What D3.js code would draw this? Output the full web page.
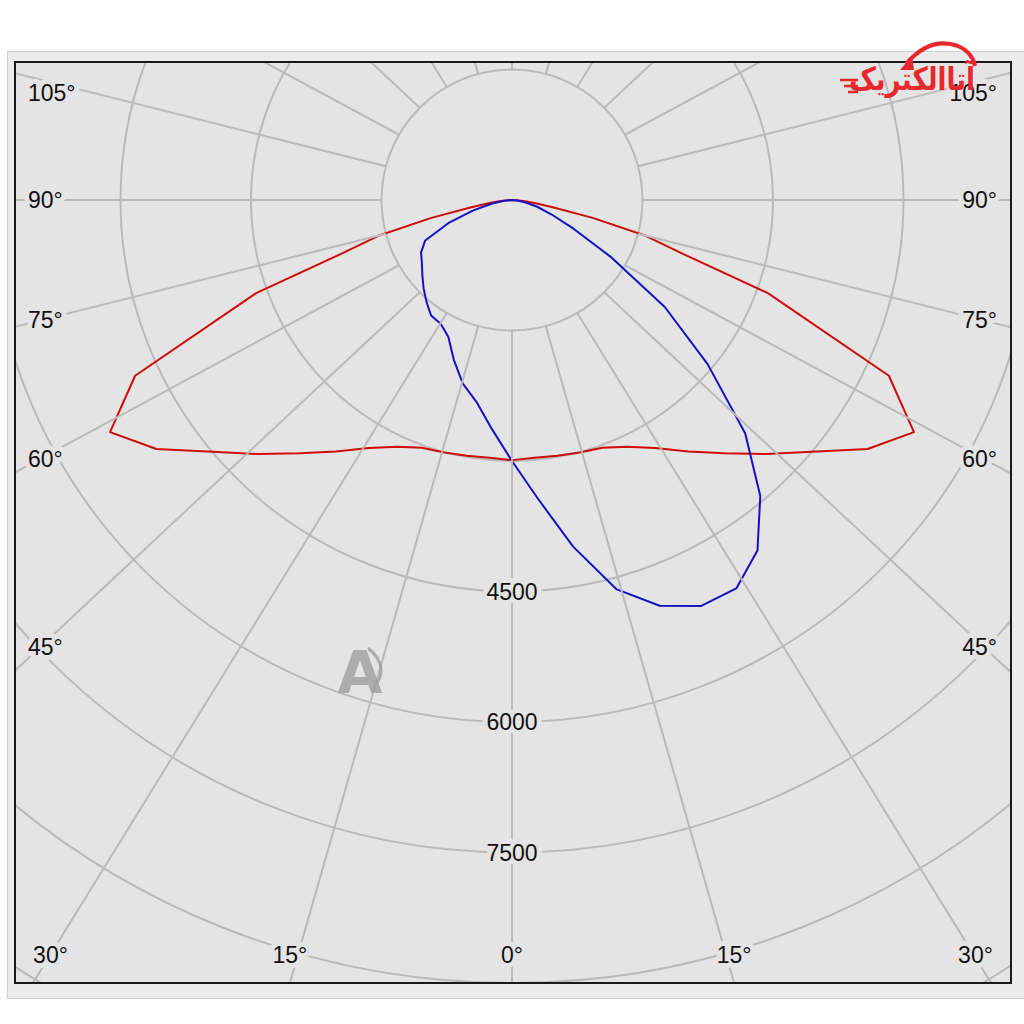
<!DOCTYPE html>
<html><head><meta charset="utf-8">
<script src="https://cdn.jsdelivr.net/npm/d3@7"></script>
<style>html,body{margin:0;padding:0;background:#fff;}</style>
</head><body>
<svg id="chart" width="1024" height="1024"></svg>
<script>
// ---------------- data ----------------
// C0-C180 plane (red): gamma angles (deg, negative = left half) and intensities (cd)
const redAngles = [-90,-87.5,-85,-82.5,-80,-77.5,-75,-72.5,-70,-65,-60,-55,-50,-45,-40,-35,-30,-25,-20,-15,-10,-5,0,
                   5,10,15,20,25,30,35,40,45,50,55,60,65,70,72.5,75,77.5,80,82.5,85,87.5,90];
const intensityC0C180 = [0,50,130,260,475,950,1590,2060,3130,4780,5335,4990,4500,4130,3800,3530,3290,3130,3030,3005,2985,2975,2990,
                         2975,2985,3005,3030,3130,3290,3530,3800,4130,4500,4990,5335,4780,3130,2060,1590,950,475,260,130,50,0];
// C90-C270 plane (blue)
const blueAngles = [-90,-85,-80,-75,-70,-65,-60,-55,-50,-45,-40,-35,-30,-25,-20,-15,-10,-5,0,
                    5,10,15,20,25,30,35,40,45,50,55,60,65,70,75,80,85,90];
const intensityC90C270 = [0,90,230,460,780,1100,1207,1264,1345,1437,1529,1621,1641,1733,1955,2184,2356,2644,3000,
                          3450,4046,4630,4963,5148,5156,4919,4440,3790,2935,2144,1320,780,480,300,150,60,0];
const ringValues = [1500,3000,4500,6000,7500,9000,10500];
const ringLabelValues = [4500,6000,7500];
const gridAngles = d3.range(0,360,15);
const angleLabels = [0,15,30,45,60,75,90,105];

// ---------------- layout ----------------
const svg = d3.select("#chart");
const W = 1024, H = 1024;
const frame = {x0:15, y0:62, x1:1011, y1:983};
const cx = 512, cy = 200;
const bg = "#e4e4e4";
const gridColor = "#bababa";
const stretch = 1.07;
const rScale = d3.scaleLinear().domain([0,1500]).range([0,130.5]);

// outer panel
svg.append("rect").attr("x",0).attr("y",0).attr("width",W).attr("height",H).attr("fill","#fff");
svg.append("rect").attr("x",7.5).attr("y",51.5).attr("width",1030).attr("height",947)
  .attr("fill","#ececec").attr("stroke","#cfcfcf").attr("stroke-width",1);

const defs = svg.append("defs");
defs.append("clipPath").attr("id","plotclip").append("rect")
  .attr("x",frame.x0).attr("y",frame.y0).attr("width",frame.x1-frame.x0).attr("height",frame.y1-frame.y0);

svg.append("rect").attr("x",frame.x0).attr("y",frame.y0)
  .attr("width",frame.x1-frame.x0).attr("height",frame.y1-frame.y0).attr("fill",bg);

const plot = svg.append("g").attr("clip-path","url(#plotclip)");
const g = plot.append("g").attr("transform",`translate(${cx},${cy})`);

// rings
g.selectAll("circle.ring").data(ringValues).join("circle")
  .attr("class","ring").attr("r",d=>rScale(d))
  .attr("fill","none").attr("stroke",gridColor).attr("stroke-width",2);

// radial lines (start on the first ring)
function ray(deg){
  const t = deg*Math.PI/180;
  const r0 = rScale(ringValues[0]);
  const sx = r0*Math.sin(t), sy = r0*Math.cos(t);
  let dx = stretch*Math.sin(t), dy = Math.cos(t);
  const n = Math.hypot(dx,dy); dx/=n; dy/=n;
  return {sx:cx+sx, sy:cy+sy, dx, dy};
}
plot.selectAll("line.spoke").data(gridAngles).join("line")
  .attr("class","spoke")
  .attr("x1",d=>ray(d).sx).attr("y1",d=>ray(d).sy)
  .attr("x2",d=>ray(d).sx+1600*ray(d).dx).attr("y2",d=>ray(d).sy+1600*ray(d).dy)
  .attr("stroke",gridColor).attr("stroke-width",2);

// curves
const radial = d3.lineRadial()
  .angle(d=>Math.PI - d.g*Math.PI/180)
  .radius(d=>rScale(d.v));
const redData = redAngles.map((a,i)=>({g:a,v:intensityC0C180[i]}));
const blueData = blueAngles.map((a,i)=>({g:a,v:intensityC90C270[i]}));

// labels
const fontFam = "'Liberation Sans', Arial, sans-serif";
function label(sel, x, y, txt, anchor){
  sel.append("text").attr("x",x).attr("y",y).text(txt)
    .attr("text-anchor",anchor).attr("dominant-baseline","central")
    .attr("font-family",fontFam).attr("font-size",23).attr("fill","#111")
    .attr("stroke",bg).attr("stroke-width",10).attr("stroke-linejoin","round")
    .attr("paint-order","stroke");
}
const lab = plot.append("g");
ringLabelValues.forEach(v=>label(lab, cx, cy+rScale(v), String(v), "middle"));

const labelW = 35;
angleLabels.forEach(a=>{
  const sides = a===0 ? [1] : [-1,1];
  sides.forEach(s=>{
    const r = ray(s*a);
    const xSide = s<0 ? frame.x0 : frame.x1;
    const ySide = Math.abs(r.dx)>1e-6 ? r.sy + (xSide - r.sx)*r.dy/r.dx : Infinity;
    const txt = a+"°";
    if (ySide < frame.y1 && a!==0){
      const xt = s<0 ? 40 : 984;
      let y = r.sy + (xt - r.sx)*r.dy/r.dx;
      y = Math.max(y, frame.y0+31);
      label(lab, s<0 ? frame.x0+13 : frame.x1-14, y, txt, s<0 ? "start":"end");
    } else {
      let x = r.sx + (frame.y1 - r.sy)*r.dx/r.dy;
      x = Math.max(frame.x0+18+labelW/2, Math.min(frame.x1-18-labelW/2, x));
      label(lab, x, frame.y1-28, txt, "middle");
    }
  });
});

g.append("path").datum(redData).attr("d",radial)
  .attr("fill","none").attr("stroke","#d10a0a").attr("stroke-width",2).attr("stroke-linejoin","round");
g.append("path").datum(blueData).attr("d",radial)
  .attr("fill","none").attr("stroke","#1212c4").attr("stroke-width",2).attr("stroke-linejoin","round");

// watermark "A"
const wm = svg.append("g").attr("opacity",0.75);
wm.append("text").attr("x",360).attr("y",693).text("A")
  .attr("text-anchor","middle").attr("font-family","'DejaVu Sans', sans-serif")
  .attr("font-weight","bold").attr("font-size",58).attr("fill","#9a9a9a");
wm.append("path").attr("d","M368,648 Q392,668 372,690").attr("fill","none")
  .attr("stroke","#9a9a9a").attr("stroke-width",3);

// frame border
svg.append("rect").attr("x",frame.x0).attr("y",frame.y0)
  .attr("width",frame.x1-frame.x0).attr("height",frame.y1-frame.y0)
  .attr("fill","none").attr("stroke","#1a1a1a").attr("stroke-width",2);

// logo
const logo = svg.append("g");
logo.append("path").attr("d","M906,64 Q930,36 958,46 Q972,52 975,66").attr("fill","none")
  .attr("stroke","#e8282e").attr("stroke-width",4);
logo.append("path").attr("d","M900,70 L912,56 L914,70 Z").attr("fill","#e8282e");
logo.append("text").attr("x",975).attr("y",90).text("آتاالکتریک")
  .attr("text-anchor","end").attr("font-family","'DejaVu Sans', sans-serif")
  .attr("font-weight","bold").attr("font-size",32).attr("fill","#e8282e")
  .attr("textLength",126).attr("lengthAdjust","spacingAndGlyphs");
[[840,80,858],[844,86,858],[848,92,858]].forEach(l=>{
  logo.append("line").attr("x1",l[0]).attr("x2",l[2]).attr("y1",l[1]).attr("y2",l[1])
    .attr("stroke","#e8282e").attr("stroke-width",2.5);
});
</script>
</body></html>
